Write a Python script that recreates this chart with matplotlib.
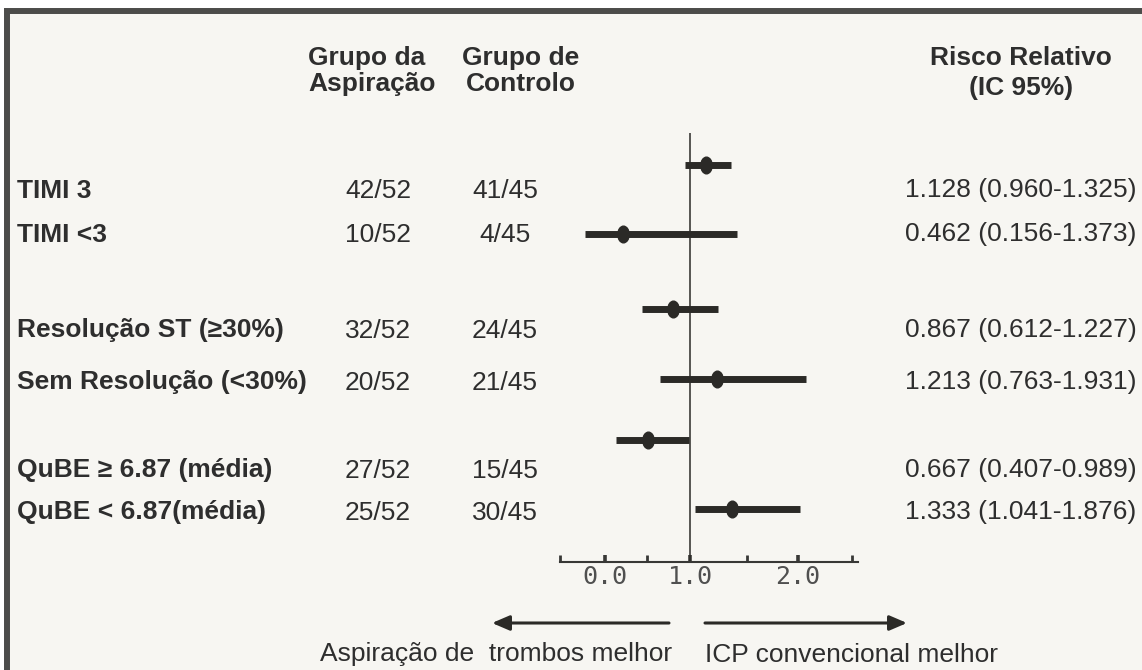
import matplotlib
matplotlib.use("Agg")
import matplotlib.pyplot as plt
from matplotlib.patches import Rectangle
from matplotlib.path import Path

# ---------------- data ----------------
categories = ["TIMI 3", "TIMI <3", "Resolução ST (≥30%)", "Sem Resolução (<30%)",
              "QuBE ≥ 6.87 (média)", "QuBE < 6.87(média)"]
aspiration = ["42/52", "10/52", "32/52", "20/52", "27/52", "25/52"]
control = ["41/45", "4/45", "24/45", "21/45", "15/45", "30/45"]
rr = [1.128, 0.462, 0.867, 1.213, 0.667, 1.333]
ci_low = [0.960, 0.156, 0.612, 0.763, 0.407, 1.041]
ci_high = [1.325, 1.373, 1.227, 1.931, 0.989, 1.876]
tick_labels = ["0.0", "1.0", "2.0"]
header_asp = ["Grupo da", "Aspiração"]
header_ctl = ["Grupo de", "Controlo"]
header_rr = ["Risco Relativo", "(IC 95%)"]
left_note = "Aspiração de  trombos melhor"
right_note = "ICP convencional melhor"

# ---------------- layout (pixel positions, top-origin) ----------------
W, H = 1142, 670
text_base = [197.5, 241.5, 337.5, 389.5, 477.5, 519.5]
mark_y = [165, 234, 309, 379, 440, 509]
ink = "#2b2a27"
txt = "#2e2e2e"

plt.rcParams['font.family'] = ['Liberation Sans', 'DejaVu Sans']

fig = plt.figure(figsize=(W / 100, H / 100), dpi=100)
fig.patch.set_facecolor("white")

ax0 = fig.add_axes([0, 0, 1, 1])
ax0.set_xlim(0, W)
ax0.set_ylim(H, 0)
ax0.axis("off")
ax0.add_patch(Rectangle((7, 11), W + 20, H + 20, facecolor="#f7f6f2",
                        edgecolor="#4c4c4a", linewidth=4.3))

fs = 19
for i, cat in enumerate(categories):
    y = text_base[i]
    ax0.text(17, y, cat, fontsize=fs, fontweight="bold", color=txt, va="baseline", ha="left")
    ax0.text(378, y, aspiration[i], fontsize=fs, color=txt, va="baseline", ha="center")
    ax0.text(505, y, control[i], fontsize=fs, color=txt, va="baseline", ha="center")
    ax0.text(905, y, f"{rr[i]:.3f} ({ci_low[i]:.3f}-{ci_high[i]:.3f})", fontsize=fs,
             color=txt, va="baseline", ha="left")

for j, yb in enumerate([65, 91]):
    ax0.text(308, yb, header_asp[j], fontsize=fs, fontweight="bold", color=txt, va="baseline", ha="left")
    ax0.text(521, yb, header_ctl[j], fontsize=fs, fontweight="bold", color=txt, va="baseline", ha="center")
for j, yb in enumerate([65, 95]):
    ax0.text(1021, yb, header_rr[j], fontsize=fs, fontweight="bold", color=txt, va="baseline", ha="center")

# direction arrows and notes
arrow_style = "-|>,head_length=0.7,head_width=0.3"
ax0.annotate("", xy=(492, 623), xytext=(669, 623),
             arrowprops=dict(arrowstyle=arrow_style, lw=2.2, color=ink,
                             mutation_scale=15, shrinkA=0, shrinkB=0))
ax0.annotate("", xy=(907, 623), xytext=(705, 623),
             arrowprops=dict(arrowstyle=arrow_style, lw=2.2, color=ink,
                             mutation_scale=15, shrinkA=0, shrinkB=0))
ax0.text(320, 661.5, left_note, fontsize=fs, color=txt, va="baseline", ha="left")
ax0.text(705, 661.5, right_note, fontsize=fs, color=txt, va="baseline", ha="left")

# ---------------- forest plot axes ----------------
px_l, px_r, px_t, px_b = 560, 858, 130, 562
ax = fig.add_axes([px_l / W, 1 - px_b / H, (px_r - px_l) / W, (px_b - px_t) / H])
ax.patch.set_alpha(0)
ax.set_xlim(-0.04, 2.344)
ax.set_ylim(px_b, px_t)
for s in ["top", "left", "right"]:
    ax.spines[s].set_visible(False)
ax.spines["bottom"].set_linewidth(1.5)
ax.spines["bottom"].set_color("#383836")
ax.set_yticks([])
ax.set_xticks([0.32, 1.0, 1.864])
ax.set_xticklabels(tick_labels, fontfamily="DejaVu Sans Mono", fontsize=18, color="#505050")
ax.set_xticks([-0.04, 0.656, 1.456, 2.296], minor=True)
ax.tick_params(axis="x", which="both", direction="in", length=5, width=2,
               color="#383836", pad=2)
ax.tick_params(axis="x", which="major", width=2.6)

ax.vlines(1.0, 133, px_b, color=ink, lw=1.1)
ax.hlines(mark_y, ci_low, ci_high, color=ink, lw=5, capstyle="butt")
circ = Path.unit_circle()
ellipse = Path(circ.vertices * [0.68, 1.0], circ.codes)
ax.plot(rr, mark_y, ls="none", marker=ellipse, ms=12, color=ink, clip_on=False)

fig.savefig("out.png", dpi=100, facecolor=fig.get_facecolor())
